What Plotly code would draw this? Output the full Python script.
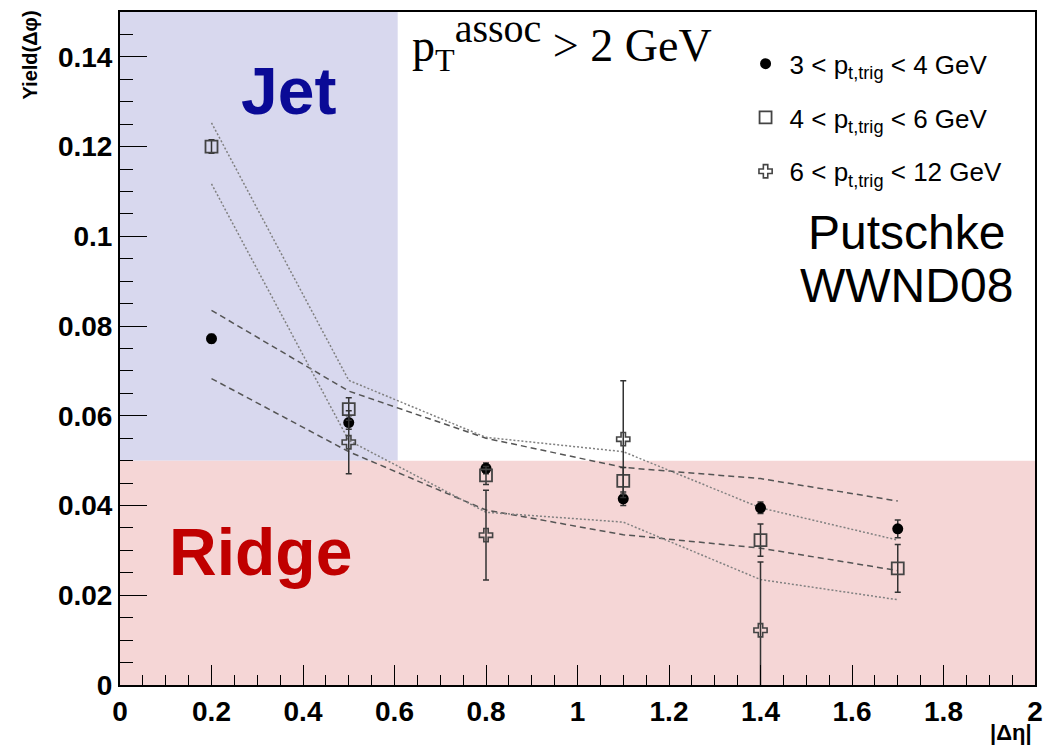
import plotly.graph_objects as go

# ---- data ----
x_pts = [0.2, 0.5, 0.8, 1.1, 1.4, 1.7]
y_3_4 = [0.0772, 0.0585, 0.0483, 0.0415, 0.0395, 0.0348]
e_3_4 = [0.0010, 0.0015, 0.0012, 0.0015, 0.0013, 0.0020]
y_4_6 = [0.1200, 0.0615, 0.0467, 0.0455, 0.0323, 0.0260]
e_4_6 = [0.0015, 0.0025, 0.0020, 0.0030, 0.0036, 0.0053]
x_6_12 = [0.5, 0.8, 1.1, 1.4]
y_6_12 = [0.0541, 0.0334, 0.0548, 0.0122]
e_6_12 = [0.0070, 0.0100, 0.0130, 0.0152]

dash_hi = [0.0835, 0.0655, 0.0550, 0.0485, 0.0460, 0.0410]
dash_lo = [0.0683, 0.0520, 0.0390, 0.0335, 0.0305, 0.0255]
dot_hi = [0.1253, 0.0679, 0.0552, 0.0520, 0.0395, 0.0323]
dot_lo = [0.1117, 0.0545, 0.0385, 0.0363, 0.0235, 0.0190]

names = ["3 < p<sub>t,trig</sub> < 4 GeV",
         "4 < p<sub>t,trig</sub> < 6 GeV",
         "6 < p<sub>t,trig</sub> < 12 GeV"]

jet_region = dict(x0=0.0, x1=0.607, y0=0.05, y1=0.15)
ridge_region = dict(x0=0.0, x1=2.0, y0=0.0, y1=0.05)

FONT = "Liberation Sans"

fig = go.Figure()

for ys, dash, col in [(dash_hi, "6px,4px", "#555555"), (dash_lo, "6px,4px", "#555555"),
                      (dot_hi, "2px,2px", "#808080"), (dot_lo, "2px,2px", "#808080")]:
    fig.add_trace(go.Scatter(x=x_pts, y=ys, mode="lines", showlegend=False,
                             line=dict(color=col, width=1.5, dash=dash),
                             hoverinfo="skip"))

err_style = dict(type="data", thickness=1.5, width=3, color="#333333")

fig.add_trace(go.Scatter(
    x=x_pts, y=y_3_4, mode="markers", name=names[0], legendgroup="a",
    error_y=dict(array=e_3_4, **err_style),
    marker=dict(symbol="circle", size=11, color="black")))
fig.add_trace(go.Scatter(
    x=x_pts, y=y_4_6, mode="markers", name=names[1], legendgroup="b",
    error_y=dict(array=e_4_6, **err_style),
    marker=dict(symbol="square-open", size=12, color="#444444", line=dict(width=1.8))))
fig.add_trace(go.Scatter(
    x=x_6_12, y=y_6_12, mode="markers", name=names[2], legendgroup="c",
    error_y=dict(array=e_6_12, **err_style),
    marker=dict(symbol="cross-open", size=11, color="#444444", line=dict(width=1.6))))

fig.add_shape(type="rect", xref="x", yref="y", layer="below", line_width=0,
              fillcolor="#d8d8ee", **jet_region)
fig.add_shape(type="rect", xref="x", yref="y", layer="below", line_width=0,
              fillcolor="#f5d6d6", **ridge_region)

def note(text, x, y, size, color="black", family=FONT, xanchor="center", **kw):
    fig.add_annotation(text=text, x=x, y=y, xref="paper", yref="paper",
                       xanchor=xanchor, yanchor="middle", showarrow=False,
                       font=dict(family=family, size=size, color=color), **kw)

note("<b>Jet</b>", 0.1842, 0.882, 66, "#0a0a96")
note("<b>Ridge</b>", 0.154, 0.197, 66, "#c00000")
note("Putschke", 0.8592, 0.673, 48)
note("WWND08", 0.8592, 0.594, 48)
note("p<sub>T</sub><sup><span style='font-size:40px'>assoc</span></sup> > 2 GeV",
     0.3165, 0.955, 46, family="Liberation Serif", xanchor="left")
note("<b>Yield(Δφ)</b>", -0.0986, 0.9365, 20, textangle=-90)
note("<b>|Δη|</b>", 0.999, -0.0713, 22, xanchor="right")

axis_common = dict(showline=True, linecolor="black", linewidth=2, mirror=True,
                   ticks="inside", tickwidth=1.2, tickcolor="black",
                   showgrid=False, zeroline=False,
                   tickfont=dict(family=FONT, size=28, color="black", weight="bold"))

fig.update_xaxes(range=[0, 2], dtick=0.2, tick0=0, tickformat="~g", ticklen=20,
                 minor=dict(ticks="inside", ticklen=10, dtick=0.05, tickcolor="black",
                            tickwidth=1.2),
                 **axis_common)
fig.update_yaxes(range=[0, 0.15], dtick=0.02, tick0=0, tickformat="~g", ticklen=27,
                 minor=dict(ticks="inside", ticklen=13, dtick=0.005, tickcolor="black",
                            tickwidth=1.2),
                 **axis_common)

fig.update_layout(
    width=1052, height=751,
    margin=dict(l=120, r=9, t=12, b=66),
    plot_bgcolor="white", paper_bgcolor="white",
    showlegend=True,
    legend=dict(x=0.6793, y=0.958, xanchor="left", yanchor="top",
                bgcolor="rgba(0,0,0,0)", tracegroupgap=17, itemwidth=38,
                font=dict(family=FONT, size=26, color="black")),
)

fig.write_html("out.html")
